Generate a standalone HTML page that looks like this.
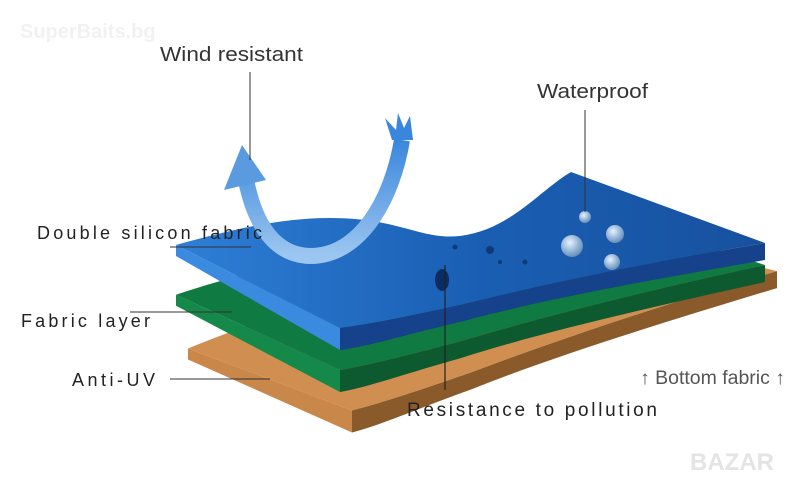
<!DOCTYPE html>
<html><head><style>
body{margin:0;background:#fff;}
svg{display:block;}
text{font-family:"Liberation Sans",sans-serif;}
</style></head><body>
<svg width="800" height="488" viewBox="0 0 800 488" xmlns="http://www.w3.org/2000/svg">
<defs>
<linearGradient id="bt" x1="0" y1="0" x2="1" y2="0">
<stop offset="0" stop-color="#2e7fd6"/><stop offset="0.5" stop-color="#1a5fb4"/><stop offset="1" stop-color="#17519e"/></linearGradient>
<linearGradient id="arr" x1="0" y1="1" x2="0" y2="0">
<stop offset="0" stop-color="#9cc6f0"/><stop offset="1" stop-color="#3a86dc"/></linearGradient>
<radialGradient id="drop" cx="0.4" cy="0.35" r="0.7">
<stop offset="0" stop-color="#e8f2fb"/><stop offset="0.6" stop-color="#8fb2d6"/><stop offset="1" stop-color="#5f86b5"/></radialGradient>
<path id="top" d="M176,245 C230,230 280,218 330,218 C400,218 420,240 460,236 C510,230 540,190 571,172 L765,243 C650,262 540,285 460,305 C400,318 370,324 340,328 Z"/>
<path id="lf" d="M176,245 L340,328 L340,350 L176,256 Z"/>
<path id="rf" d="M340,328 C370,324 400,318 460,305 C540,285 650,262 765,243 L765,260 C650,280 540,300 460,322 C400,336 370,346 340,350 Z"/>
</defs>
<text x="20" y="38" font-size="20" font-weight="bold" fill="#f1f1f1">SuperBaits.bg</text>
<!-- brown -->
<g transform="matrix(1,-0.128,0,1,12,126)">
<use href="#top" fill="#d08f50"/><use href="#lf" fill="#c9874a"/><use href="#rf" fill="#8a5a2b"/>
</g>
<!-- green -->
<g transform="matrix(1,-0.047,0,1,0,58)">
<use href="#top" fill="#0f7a42"/><use href="#lf" fill="#14894a"/><use href="#rf" fill="#0d5a30"/>
</g>
<!-- blue -->
<use href="#top" fill="url(#bt)"/>
<use href="#lf" fill="#3a8ae0"/>
<use href="#rf" fill="#15428a"/>
<!-- stains -->
<ellipse cx="442" cy="280" rx="7" ry="11" fill="#0b2d66"/>
<circle cx="490" cy="250" r="4" fill="#0f3a78"/><circle cx="455" cy="247" r="2.5" fill="#0f3a78"/><circle cx="500" cy="262" r="2" fill="#0f3a78"/>
<circle cx="525" cy="262" r="2.5" fill="#0f3a78"/>
<!-- drops -->
<circle cx="585" cy="217" r="6" fill="url(#drop)"/>
<circle cx="572" cy="246" r="11" fill="url(#drop)"/>
<circle cx="615" cy="234" r="9" fill="url(#drop)"/>
<circle cx="612" cy="262" r="8" fill="url(#drop)"/>
<!-- arrow -->
<path d="M246,180 C255,225 275,255 310,256 C360,256 392,200 402,140" fill="none" stroke="url(#arr)" stroke-width="16"/>
<polygon points="224,190 242,145 266,180" fill="#5a9be0"/>
<polygon points="392,140 385,118 396,130 398,113 404,128 410,116 413,140" fill="#3a86dc"/>
<!-- labels & lines -->
<text x="160" y="61" font-size="20" fill="#333" textLength="143" lengthAdjust="spacingAndGlyphs">Wind resistant</text>
<line x1="250" y1="72" x2="250" y2="160" stroke="#333" stroke-width="1"/>
<text x="537" y="98" font-size="20" fill="#333" textLength="111" lengthAdjust="spacingAndGlyphs">Waterproof</text>
<line x1="585" y1="110" x2="585" y2="212" stroke="#333" stroke-width="1"/>
<text x="37" y="239" font-size="18" fill="#222" textLength="225">Double silicon fabric</text>
<line x1="170" y1="247" x2="251" y2="247" stroke="#333" stroke-width="1"/>
<text x="21" y="327" font-size="18" fill="#222" textLength="129">Fabric layer</text>
<line x1="130" y1="312" x2="232" y2="312" stroke="#333" stroke-width="1"/>
<text x="72" y="386" font-size="18" fill="#222" textLength="83">Anti-UV</text>
<line x1="170" y1="379" x2="270" y2="379" stroke="#333" stroke-width="1"/>
<line x1="445" y1="265" x2="445" y2="390" stroke="#222" stroke-width="1.2"/>
<text x="407" y="416" font-size="19" fill="#222" textLength="250">Resistance to pollution</text>
<text x="640" y="384" font-size="19" fill="#555" textLength="145" lengthAdjust="spacingAndGlyphs">↑ Bottom fabric ↑</text>
<text x="690" y="470" font-size="24" font-weight="bold" fill="#e4e4e4">BAZAR</text>
</svg>
</body></html>
